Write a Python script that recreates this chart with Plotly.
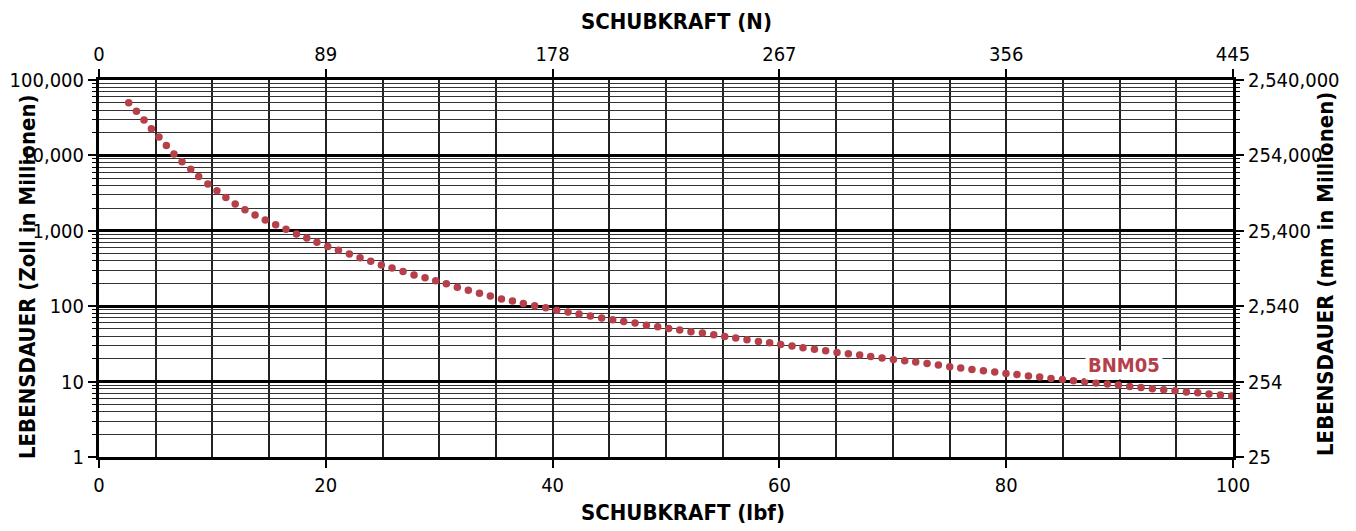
import plotly.graph_objects as go
import math

# Thrust force (lbf) and life (million inches)
force_lbf = [2.62, 3.30, 3.97, 4.62, 5.29, 5.94, 6.61, 7.32, 8.09, 8.79,
             9.60, 10.40, 11.19, 12.01, 12.87, 13.76, 14.66, 15.58, 16.49, 17.41,
             18.32, 19.22, 20.17, 21.11, 22.08, 23.02, 23.96, 24.90, 25.84, 26.81,
             27.78, 28.75, 29.69, 30.63, 31.60, 32.57, 33.55, 34.51, 35.49, 36.46,
             37.42, 38.42, 39.39, 40.36, 41.36, 42.33, 43.33, 44.33, 45.30, 46.27,
             47.27, 48.27, 49.27, 50.24, 51.21, 52.20, 53.21, 54.21, 55.18, 56.15,
             57.14, 58.15, 59.14, 60.11, 61.11, 62.08, 63.09, 64.08, 65.08, 66.08,
             67.08, 68.05, 69.05, 70.05, 71.05, 72.02, 73.02, 74.02, 75.02, 75.99,
             76.98, 77.99, 78.99, 79.98, 80.95, 81.96, 82.95, 83.95, 84.96, 85.93,
             86.92, 87.92, 88.92, 89.89, 90.89, 91.89, 92.89, 93.89, 94.89, 95.89,
             96.89, 97.88, 98.89, 99.89]
life_in = [50000, 38500, 29500, 22600, 17600, 13500, 10450, 8260, 6560, 5230,
           4190, 3400, 2770, 2275, 1905, 1625, 1387, 1205, 1045, 910,
           801, 707, 618, 554, 494, 438, 396, 353, 320, 288,
           260, 238, 217, 198, 179, 163, 149, 137, 125, 117,
           109, 101, 95.2, 88.7, 83.5, 78.6, 73.9, 69.5, 66.0, 62.7,
           59.7, 56.1, 53.3, 50.6, 48.2, 45.7, 44.0, 41.8, 39.6, 37.8,
           35.8, 34.0, 32.7, 31.1, 29.6, 28.1, 26.8, 25.6, 24.3, 23.4,
           22.5, 21.5, 20.5, 19.7, 18.9, 18.2, 17.4, 16.6, 15.7, 15.1,
           14.5, 13.9, 13.4, 12.8, 12.4, 11.9, 11.5, 11.0, 10.7, 10.3,
           9.95, 9.57, 9.28, 9.00, 8.62, 8.36, 8.04, 7.80, 7.56, 7.27,
           7.11, 6.84, 6.63, 6.43]

series_name = "BNM05"
label_x, label_y = 90.4, 16.7

x_ticks = [0, 20, 40, 60, 80, 100]
n_ticks = [0, 89, 178, 267, 356, 445]
y_ticks = [1, 10, 100, 1000, 10000, 100000]
y_ticktext = ["1", "10", "100", "1,000", "10,000", "100,000"]
mm_ticks = [25.4, 254, 2540, 25400, 254000, 2540000]
mm_ticktext = ["25", "254", "2,540", "25,400", "254,000", "2,540,000"]

FONT = "DejaVu Sans Condensed, Liberation Sans Narrow, Arial Narrow, sans-serif"
RED = "#B5404A"

fig = go.Figure()
fig.add_trace(go.Scatter(x=force_lbf, y=life_in, mode="markers",
                         marker=dict(size=7.5, color=RED), showlegend=False,
                         hoverinfo="x+y"))
# invisible trace to activate the secondary axes
fig.add_trace(go.Scatter(x=[0, 445], y=[25.4, 2540000], xaxis="x2", yaxis="y2",
                         mode="markers", marker=dict(opacity=0), showlegend=False,
                         hoverinfo="skip"))

fig.add_annotation(x=label_x, y=math.log10(label_y), text=series_name,
                   showarrow=False, bgcolor="white", borderpad=2,
                   font=dict(family=FONT, size=20, color=RED, weight="bold"))

tickfont = dict(family=FONT, size=20, color="black")
titlefont = dict(family=FONT, size=22, color="black", weight="bold")

# axis titles
title_common = dict(xref="paper", yref="paper", showarrow=False, font=titlefont,
                    xanchor="center", yanchor="middle")
fig.add_annotation(x=0.509, y=1.154, text="SCHUBKRAFT (N)", **title_common)
fig.add_annotation(x=0.515, y=-0.148, text="SCHUBKRAFT (lbf)", **title_common)
fig.add_annotation(x=-0.0635, y=0.48, textangle=-90,
                   text="LEBENSDAUER (Zoll in Millionen)", **title_common)
fig.add_annotation(x=1.081, y=0.485, textangle=-90,
                   text="LEBENSDAUER (mm in Millionen)", **title_common)

# page body has an 8px margin, so the figure is made 8px smaller and margins shifted
fig.update_layout(
    width=1348, height=523,
    margin=dict(l=91, r=123, t=72, b=74, autoexpand=False),
    paper_bgcolor="white", plot_bgcolor="white",
    showlegend=False,
    xaxis=dict(range=[0, 100], tickvals=x_ticks, ticks="outside", ticklen=8,
               tickwidth=1.5, tickcolor="black", automargin=False,
               showgrid=True, gridcolor="#222", gridwidth=1.5,
               minor=dict(dtick=5, showgrid=True, gridcolor="#222", gridwidth=1.5, ticks=""),
               showline=True, linecolor="black", linewidth=3, zeroline=False,
               tickfont=tickfont),
    xaxis2=dict(range=[0, 445], overlaying="x", side="top", tickvals=n_ticks,
                ticks="outside", ticklen=8, tickwidth=1.5, tickcolor="black",
                automargin=False,
                showgrid=False, showline=True, linecolor="black", linewidth=3,
                zeroline=False, tickfont=tickfont),
    yaxis=dict(type="log", range=[0, 5], tickvals=y_ticks, ticktext=y_ticktext,
               ticks="outside", ticklen=8, tickwidth=1.5, tickcolor="black",
               automargin=False,
               showgrid=True, gridcolor="black", gridwidth=3,
               minor=dict(dtick="D1", showgrid=True, gridcolor="#333", gridwidth=1.2,
                          ticks="outside", ticklen=4, tickcolor="black", tickwidth=1.2),
               showline=True, linecolor="black", linewidth=3, zeroline=False,
               mirror="ticks", tickfont=tickfont),
    yaxis2=dict(type="log", range=[math.log10(25.4), math.log10(2540000)],
                overlaying="y", side="right", tickvals=mm_ticks, ticktext=mm_ticktext,
                ticks="outside", ticklen=8, tickwidth=1.5, tickcolor="black",
                automargin=False,
                showgrid=False, showline=True, linecolor="black", linewidth=3,
                zeroline=False, tickfont=tickfont),
)

fig.write_html("out.html")
